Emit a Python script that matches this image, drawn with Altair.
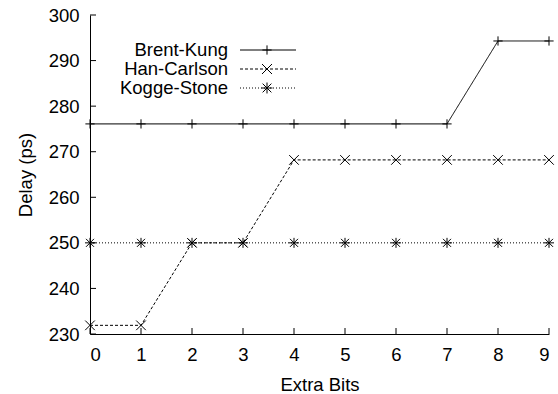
import altair as alt
import pandas as pd

# ---- data ----
extra_bits = [0, 1, 2, 3, 4, 5, 6, 7, 8, 9]
brent_kung = [276.1, 276.1, 276.1, 276.1, 276.1, 276.1, 276.1, 276.1, 294.3, 294.3]
han_carlson = [231.9, 231.9, 250.0, 250.0, 268.2, 268.2, 268.2, 268.2, 268.2, 268.2]
kogge_stone = [250.0, 250.0, 250.0, 250.0, 250.0, 250.0, 250.0, 250.0, 250.0, 250.0]
series_names = ["Brent-Kung", "Han-Carlson", "Kogge-Stone"]
x_ticks = [0, 1, 2, 3, 4, 5, 6, 7, 8, 9]
y_ticks = [230, 240, 250, 260, 270, 280, 290, 300]

FONT = "Liberation Sans"
FS = 18.5
W, H = 459, 319

PLUS = "M-1,0L1,0M0,-1L0,1"
XMARK = "M-1,-1L1,1M-1,1L1,-1"
STAR = "M-1,0L1,0M0,-1L0,1M-0.8,-0.8L0.8,0.8M-0.8,0.8L0.8,-0.8"
shapes = [PLUS, XMARK, STAR]
dashes = [[1, 0], [3, 2], [1, 2]]
sizes = [85, 100, 120]

rows = []
for name, vals in zip(series_names, [brent_kung, han_carlson, kogge_stone]):
    for xb, v in zip(extra_bits, vals):
        rows.append({"bits": xb, "delay": v, "series": name})
df = pd.DataFrame(rows)

xs = alt.Scale(domain=[0, 9], nice=False, zero=False)
ys = alt.Scale(domain=[230, 300], nice=False, zero=False)

common_axis = dict(
    ticks=False, tickSize=0, grid=False,
    labelFont=FONT, titleFont=FONT, labelFontSize=FS, titleFontSize=FS,
    labelColor="black", titleColor="black", titleFontWeight="normal",
    domainColor="black", domainWidth=1)

x_enc = alt.X("bits:Q", scale=xs, axis=alt.Axis(
    title="Extra Bits", values=x_ticks,
    labelPadding=26, labelBaseline="alphabetic",
    titleX=W / 2, titleY=56, titleBaseline="alphabetic", titleAlign="center",
    **common_axis))
y_enc = alt.Y("delay:Q", scale=ys, axis=alt.Axis(
    title="Delay (ps)", values=y_ticks,
    labelPadding=11, titleAngle=270, titleX=-59, titleY=H / 2,
    titleBaseline="alphabetic", titleAlign="center",
    **common_axis))

dash_scale = alt.Scale(domain=series_names, range=dashes)
shape_scale = alt.Scale(domain=series_names, range=shapes)
size_scale = alt.Scale(domain=series_names, range=sizes)

lines = alt.Chart(df).mark_line(color="black", strokeWidth=1).encode(
    x=x_enc, y=y_enc,
    strokeDash=alt.StrokeDash("series:N", scale=dash_scale, legend=None),
    detail="series:N")

points = alt.Chart(df).mark_point(filled=False, color="black", strokeWidth=1, opacity=1).encode(
    x=alt.X("bits:Q", scale=xs), y=alt.Y("delay:Q", scale=ys),
    shape=alt.Shape("series:N", scale=shape_scale, legend=None),
    size=alt.Size("series:N", scale=size_scale, legend=None))

xt = alt.Chart(pd.DataFrame({"v": x_ticks})).mark_rule(color="black", strokeWidth=1).encode(
    x=alt.X("v:Q", scale=xs), y=alt.value(H), y2=alt.value(H - 6))
yt = alt.Chart(pd.DataFrame({"v": y_ticks})).mark_rule(color="black", strokeWidth=1).encode(
    y=alt.Y("v:Q", scale=ys), x=alt.value(0), x2=alt.value(6))

# legend (gnuplot style: label, then line sample with marker)
legend_layers = []
leg_y = [35, 54, 73]
for i, name in enumerate(series_names):
    d = pd.DataFrame({"series": [name]})
    legend_layers.append(alt.Chart(d).mark_text(
        align="right", baseline="middle", font=FONT, fontSize=FS, color="black").encode(
        text="series:N", x=alt.value(138), y=alt.value(leg_y[i])))
    legend_layers.append(alt.Chart(d).mark_rule(
        color="black", strokeWidth=1, strokeDash=dashes[i]).encode(
        x=alt.value(150), x2=alt.value(206), y=alt.value(leg_y[i])))
    legend_layers.append(alt.Chart(d).mark_point(
        filled=False, color="black", strokeWidth=1, opacity=1,
        shape=shapes[i], size=sizes[i]).encode(
        x=alt.value(177), y=alt.value(leg_y[i])))

chart = alt.layer(lines, points, xt, yt, *legend_layers).properties(
    width=W, height=H,
    background="white",
    autosize=alt.AutoSizeParams(type="none"),
    padding={"left": 90, "top": 15, "right": 9, "bottom": 60},
).configure_view(stroke=None)

chart.save("out.html", embed_options={"renderer": "svg", "actions": False})
